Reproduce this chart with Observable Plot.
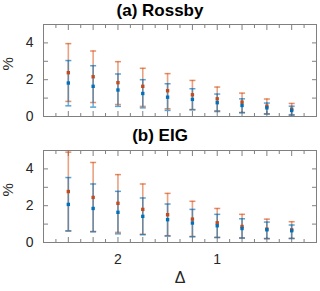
<!DOCTYPE html>
<html><head><meta charset="utf-8">
<script src="https://cdn.jsdelivr.net/npm/d3@7"></script>
<script src="https://cdn.jsdelivr.net/npm/@observablehq/plot@0.6"></script>
<style>
body{margin:0;background:#fff;}
#wrap{width:320px;height:291px;font-family:"Liberation Sans",Arial,sans-serif;}
.ttl{width:320px;height:22px;line-height:22px;text-align:center;font-weight:bold;font-size:17px;color:#000;white-space:nowrap;}
svg{display:block;}
</style></head><body><div id="wrap"></div>
<script>
const delta = [2.5, 2.25, 2, 1.75, 1.5, 1.25, 1, 0.75, 0.5, 0.25];
const rossbyOrangeMean = [2.38, 2.16, 1.84, 1.64, 1.40, 1.18, 0.96, 0.78, 0.56, 0.40];
const rossbyOrangeLow  = [0.82, 0.76, 0.65, 0.55, 0.42, 0.38, 0.31, 0.22, 0.15, 0.10];
const rossbyOrangeHigh = [3.96, 3.56, 2.98, 2.62, 2.33, 1.96, 1.60, 1.27, 0.95, 0.71];
const rossbyBlueMean   = [1.82, 1.64, 1.44, 1.25, 1.05, 0.93, 0.75, 0.60, 0.47, 0.33];
const rossbyBlueLow    = [0.58, 0.51, 0.55, 0.47, 0.33, 0.36, 0.27, 0.20, 0.13, 0.07];
const rossbyBlueHigh   = [3.04, 2.76, 2.31, 2.00, 1.78, 1.51, 1.22, 0.96, 0.73, 0.56];
const eigOrangeMean = [2.77, 2.45, 2.13, 1.80, 1.51, 1.27, 1.07, 0.87, 0.73, 0.69];
const eigOrangeLow  = [0.64, 0.60, 0.55, 0.45, 0.37, 0.33, 0.28, 0.25, 0.20, 0.22];
const eigOrangeHigh = [4.91, 4.35, 3.69, 3.18, 2.67, 2.24, 1.85, 1.53, 1.27, 1.13];
const eigBlueMean   = [2.07, 1.85, 1.64, 1.42, 1.24, 1.06, 0.91, 0.76, 0.69, 0.64];
const eigBlueLow    = [0.62, 0.58, 0.47, 0.42, 0.35, 0.31, 0.27, 0.24, 0.22, 0.22];
const eigBlueHigh   = [3.53, 3.18, 2.78, 2.42, 2.09, 1.80, 1.53, 1.29, 1.11, 0.95];

const xMajorTicks = [2.5, 2.25, 2, 1.75, 1.5, 1.25, 1, 0.75, 0.5, 0.25];
const xMinorTicks = [2.625, 2.375, 2.125, 1.875, 1.625, 1.375, 1.125, 0.875, 0.625, 0.375, 0.125];
const xTickLabels = [2, 1];
const yTicks = [1, 2, 3, 4];
const yTickLabels = [0, 2, 4];
const xDomain = [2.75, 0];
const yDomain = [0, 5];
const titles = ["(a) Rossby", "(b) EIG"];

const ORANGE = "#D95319", BLUE = "#0072BD";
const ORANGE_DOT = "#C24A1C", BLUE_DOT = "#0070BA";
const AXIS = "#808080", TEXT = "#262626";

const cap = {draw(ctx, size) { const r = Math.sqrt(size / Math.PI); ctx.moveTo(-r, 0); ctx.lineTo(r, 0); }};

function rows(mean, lo, hi) {
  return delta.map((d, i) => ({delta: d, mean: mean[i], lo: lo[i], hi: hi[i]}));
}

function panel(orange, blue, {height, marginTop, marginBottom, showX}) {
  const tickOpts = {stroke: AXIS, fill: "none", label: null};
  const marks = [
    Plot.frame({stroke: AXIS}),
    Plot.axisX(xMajorTicks, {...tickOpts, anchor: "bottom", tickSize: 5, dy: -5}),
    Plot.axisX(xMinorTicks, {...tickOpts, anchor: "bottom", tickSize: 3, dy: -3}),
    Plot.axisX(xMajorTicks, {...tickOpts, anchor: "top", tickSize: 5, dy: 5}),
    Plot.axisX(xMinorTicks, {...tickOpts, anchor: "top", tickSize: 3, dy: 3}),
    Plot.axisY(yTicks, {...tickOpts, anchor: "left", tickSize: 5, dx: 5}),
    Plot.axisY(yTicks, {...tickOpts, anchor: "right", tickSize: 5, dx: -5}),
    Plot.axisY(yTickLabels, {anchor: "left", tickSize: 0, tickPadding: 10, label: null, fill: TEXT, fontSize: 14}),
    Plot.text(["%"], {text: d => d, frameAnchor: "left", dx: -35, rotate: -90, fontSize: 15, fill: TEXT}),
    Plot.ruleX(orange, {x: "delta", y1: "lo", y2: "hi", stroke: ORANGE, strokeOpacity: 0.55, strokeWidth: 1.6}),
    Plot.dot(orange, {x: "delta", y: "lo", symbol: cap, r: 3, stroke: ORANGE, strokeOpacity: 0.65, strokeWidth: 1.5}),
    Plot.dot(orange, {x: "delta", y: "hi", symbol: cap, r: 3, stroke: ORANGE, strokeOpacity: 0.65, strokeWidth: 1.5}),
    Plot.ruleX(blue, {x: "delta", y1: "lo", y2: "hi", stroke: BLUE, strokeOpacity: 0.55, strokeWidth: 1.6}),
    Plot.dot(blue, {x: "delta", y: "lo", symbol: cap, r: 3, stroke: BLUE, strokeOpacity: 0.65, strokeWidth: 1.5}),
    Plot.dot(blue, {x: "delta", y: "hi", symbol: cap, r: 3, stroke: BLUE, strokeOpacity: 0.65, strokeWidth: 1.5}),
    Plot.dot(orange, {x: "delta", y: "mean", symbol: "square", r: 1.9, fill: ORANGE_DOT, stroke: "none"}),
    Plot.dot(blue, {x: "delta", y: "mean", symbol: "square", r: 1.9, fill: BLUE_DOT, stroke: "none"})
  ];
  if (showX) {
    marks.push(
      Plot.axisX(xTickLabels, {anchor: "bottom", tickSize: 0, tickPadding: 12, label: null, fill: TEXT, fontSize: 14, tickFormat: d => String(d)}),
      Plot.text(["Δ"], {text: d => d, frameAnchor: "bottom", dy: 40, fontSize: 16, fill: TEXT})
    );
  }
  return Plot.plot({
    width: 320, height, marginTop, marginBottom, marginLeft: 43, marginRight: 4,
    x: {domain: xDomain, label: null},
    y: {domain: yDomain, label: null},
    style: {fontFamily: "Liberation Sans, Arial, sans-serif", fontSize: "14px", color: TEXT, background: "white", overflow: "visible"},
    marks
  });
}

const wrap = document.getElementById("wrap");
function addTitle(t) { const d = document.createElement("div"); d.className = "ttl"; d.textContent = t; wrap.appendChild(d); }

addTitle(titles[0]);
wrap.appendChild(panel(rows(rossbyOrangeMean, rossbyOrangeLow, rossbyOrangeHigh), rows(rossbyBlueMean, rossbyBlueLow, rossbyBlueHigh), {height: 103, marginTop: 2, marginBottom: 9, showX: false}));
addTitle(titles[1]);
wrap.appendChild(panel(rows(eigOrangeMean, eigOrangeLow, eigOrangeHigh), rows(eigBlueMean, eigBlueLow, eigBlueHigh), {height: 144, marginTop: 3, marginBottom: 49, showX: true}));
</script></body></html>
